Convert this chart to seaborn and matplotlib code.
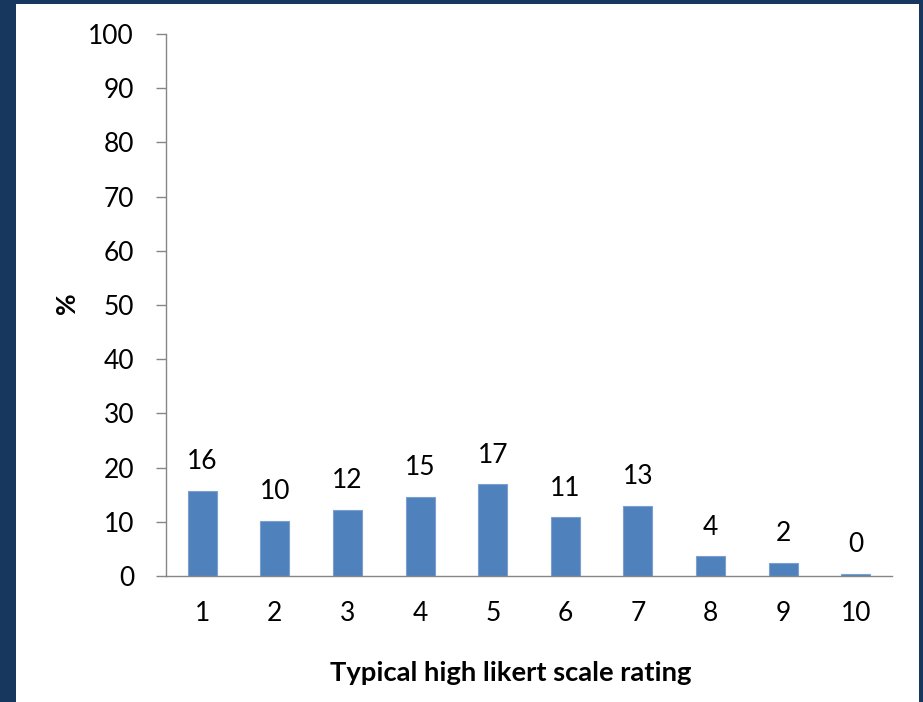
import matplotlib
matplotlib.use("Agg")
import matplotlib.pyplot as plt
from matplotlib.patches import Rectangle
from matplotlib.ticker import FixedLocator
import seaborn as sns
import pandas as pd

# Share of respondents (%) for each typical high Likert rating
ratings = ["1", "2", "3", "4", "5", "6", "7", "8", "9", "10"]
percent = [15.7, 10.2, 12.2, 14.6, 16.9, 10.8, 12.9, 3.6, 2.4, 0.4]
y_ticks = list(range(0, 101, 10))

x_title = "Typical high likert scale rating"
y_title = "%"

bar_color = "#4F81BD"
axis_color = "#868686"
frame_color = "#17375E"

sns.set_style("white")
plt.rcParams["font.family"] = ["Lato", "DejaVu Sans"]

df = pd.DataFrame({"rating": ratings, "percent": percent})

fig = plt.figure(figsize=(9.23, 7.02), dpi=100)
fig.patch.set_facecolor(frame_color)
fig.add_artist(Rectangle((16 / 923, 0), (919 - 16) / 923, (702 - 4) / 702,
                         transform=fig.transFigure, facecolor="white",
                         edgecolor="none", zorder=-1))

ax = fig.add_axes([166 / 923, (702 - 576) / 702, (892 - 166) / 923, 542 / 702])
ax.set_facecolor("white")

sns.barplot(data=df, x="rating", y="percent", color=bar_color, width=0.4,
            saturation=1, ax=ax, edgecolor="#7BA0CD", linewidth=0.8)

# value labels above bars
for i, v in enumerate(percent):
    ax.annotate(f"{v:.0f}", (i, v), xytext=(0, 12), textcoords="offset points",
                ha="center", va="bottom", fontsize=19, color="black")

ax.set_ylim(0, 100)
ax.set_xlim(-0.5, len(ratings) - 0.5)
ax.set_yticks(y_ticks)
ax.set_yticklabels([str(t) for t in y_ticks])

# category boundaries carry the x tick marks
ax.xaxis.set_minor_locator(FixedLocator([i - 0.5 for i in range(len(ratings) + 1)]))
ax.tick_params(axis="x", which="major", length=0, pad=18, labelsize=19, labelcolor="black")
ax.tick_params(axis="x", which="minor", length=10, width=1, color=axis_color, direction="out")
ax.tick_params(axis="y", which="major", length=7, width=1, color=axis_color,
               direction="out", pad=16, labelsize=19, labelcolor="black")
ax.tick_params(left=True, bottom=True)

for side in ("top", "right"):
    ax.spines[side].set_visible(False)
for side in ("left", "bottom"):
    ax.spines[side].set_color(axis_color)
    ax.spines[side].set_linewidth(1)

ax.set_xlabel(x_title, fontsize=19.7, fontweight="bold", color="black")
ax.set_ylabel(y_title, fontsize=19, fontweight="bold", color="black")
ax.xaxis.set_label_coords(0.475, -0.179)
ax.yaxis.set_label_coords(-0.136, 0.504)
ax.xaxis.label.set_va("center")
ax.yaxis.label.set_va("center")
ax.grid(False)

fig.savefig("out.png", dpi=100, facecolor=fig.get_facecolor())
